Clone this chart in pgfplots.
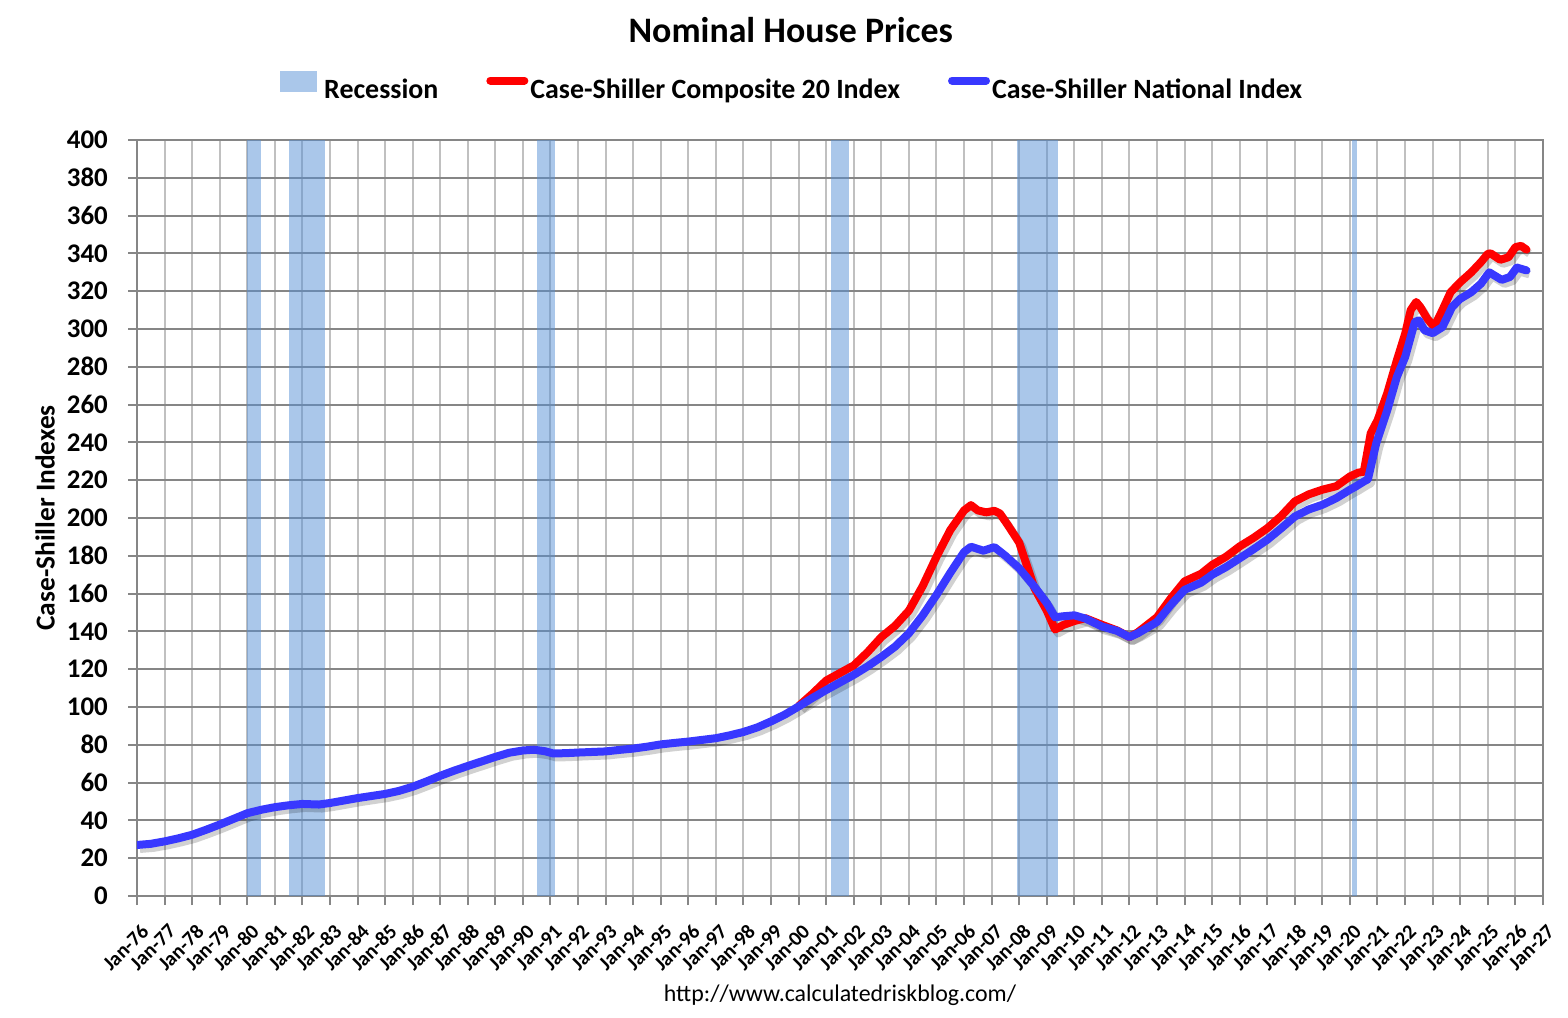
\documentclass[border=0pt]{standalone}
\usepackage{pgfplots}
\pgfplotsset{compat=1.18}
\usepackage{pgfplotstable}
\usepackage{fontspec}
\setmainfont{Carlito}

\definecolor{recblue}{RGB}{85,143,213}
\definecolor{linered}{RGB}{255,0,0}
\definecolor{lineblue}{RGB}{56,56,255}
\definecolor{gridmaj}{RGB}{134,134,134}
\definecolor{gridmin}{RGB}{192,192,192}

\pgfplotstableread{
x y
1976.0 27.0
1976.5 27.6
1977.0 28.9
1977.5 30.5
1978.0 32.4
1978.5 35.0
1979.0 37.8
1979.5 40.8
1980.0 43.8
1980.5 45.6
1981.0 47.0
1981.5 48.0
1982.0 48.7
1982.6 48.4
1983.0 49.2
1983.5 50.5
1984.0 51.8
1984.5 52.9
1985.0 54.0
1985.5 55.6
1986.0 57.8
1986.5 60.6
1987.0 63.6
1987.5 66.3
1988.0 68.8
1988.5 71.2
1989.0 73.6
1989.5 75.8
1990.0 77.0
1990.4 77.4
1990.8 76.6
1991.1 75.4
1991.6 75.6
1992.0 75.9
1992.5 76.2
1993.0 76.5
1993.5 77.3
1994.0 78.0
1994.5 79.0
1995.0 80.2
1995.5 81.0
1996.0 81.7
1996.5 82.6
1997.0 83.5
1997.5 85.0
1998.0 86.8
1998.5 89.2
1999.0 92.4
1999.5 96.0
2000.0 100.3
2000.5 104.8
2001.0 109.0
2001.5 113.0
2002.0 117.0
2002.5 121.5
2003.0 126.5
2003.5 132.0
2004.0 139.0
2004.5 148.5
2005.0 159.3
2005.5 171.0
2006.0 182.0
2006.25 184.8
2006.7 182.7
2007.1 184.6
2007.5 180.0
2008.0 173.4
2008.55 163.7
2009.0 155.0
2009.3 147.5
2009.6 148.0
2010.0 148.5
2010.4 146.8
2011.0 142.6
2011.55 140.3
2012.0 137.0
2012.3 139.0
2013.0 145.0
2013.5 154.0
2014.0 162.0
2014.6 165.8
2015.0 170.0
2015.5 174.0
2016.0 178.7
2016.5 183.5
2017.0 188.5
2017.5 194.5
2018.0 200.8
2018.5 204.5
2019.0 207.0
2019.5 210.5
2020.0 215.0
2020.2 216.6
2020.5 219.3
2020.65 220.5
2020.95 239.5
2021.35 257.0
2021.7 274.7
2022.0 285.2
2022.35 303.7
2022.5 304.6
2022.7 299.3
2023.0 297.8
2023.35 301.0
2023.7 311.6
2024.0 316.0
2024.4 319.5
2024.75 324.0
2025.05 330.0
2025.5 326.0
2025.8 327.5
2026.05 332.5
2026.4 331.0
}\national

\pgfplotstableread{
x y
2000.0 100.5
2000.5 107.0
2001.0 114.0
2001.5 118.0
2002.0 122.0
2002.5 129.0
2003.0 137.0
2003.5 143.0
2004.0 151.0
2004.5 164.0
2005.0 179.5
2005.5 193.6
2006.0 204.0
2006.25 206.8
2006.5 204.0
2006.8 203.0
2007.1 203.8
2007.3 202.4
2007.6 196.0
2008.0 187.0
2008.55 163.0
2009.0 151.0
2009.3 141.0
2009.6 143.4
2010.0 145.5
2010.4 147.0
2011.0 143.5
2011.55 140.5
2012.0 137.0
2012.3 139.5
2013.0 147.5
2013.5 157.5
2014.0 166.5
2014.6 170.5
2015.0 175.2
2015.5 179.5
2016.0 185.0
2016.5 189.5
2017.0 194.6
2017.5 201.0
2018.0 208.8
2018.5 212.5
2019.0 215.0
2019.5 216.8
2020.0 222.0
2020.3 224.0
2020.5 224.5
2020.75 244.8
2021.0 251.8
2021.35 266.0
2021.7 283.5
2022.0 297.5
2022.2 310.0
2022.4 314.3
2022.55 311.6
2022.8 305.5
2023.0 302.0
2023.1 302.5
2023.35 310.0
2023.65 319.5
2024.0 324.8
2024.4 330.0
2024.75 335.4
2025.0 339.8
2025.1 340.0
2025.45 336.6
2025.75 338.0
2026.0 343.3
2026.2 344.0
2026.4 342.0
}\composite

\begin{document}
\begin{tikzpicture}
\path[use as bounding box] (-137bp,-122bp) rectangle (1431bp,896bp);
\begin{axis}[
  at={(0bp,0bp)}, anchor=south west,
  scale only axis, width=1406bp, height=756bp,
  xmin=1976, xmax=2027, ymin=0, ymax=400,
  xtick={1976,1977,...,2027},
  xticklabels={Jan-76,Jan-77,Jan-78,Jan-79,Jan-80,Jan-81,Jan-82,Jan-83,Jan-84,Jan-85,Jan-86,Jan-87,Jan-88,Jan-89,Jan-90,Jan-91,Jan-92,Jan-93,Jan-94,Jan-95,Jan-96,Jan-97,Jan-98,Jan-99,Jan-00,Jan-01,Jan-02,Jan-03,Jan-04,Jan-05,Jan-06,Jan-07,Jan-08,Jan-09,Jan-10,Jan-11,Jan-12,Jan-13,Jan-14,Jan-15,Jan-16,Jan-17,Jan-18,Jan-19,Jan-20,Jan-21,Jan-22,Jan-23,Jan-24,Jan-25,Jan-26,Jan-27},
  ytick={0,20,...,400},
  /pgf/number format/assume math mode=true,
  grid=major,
  major x grid style={gridmin, line width=2bp},
  major y grid style={gridmaj, line width=2bp},
  axis line style={gridmaj, line width=2bp},
  tick pos=left, tick align=outside,
  major tick length=9bp,
  tick style={gridmaj, line width=2bp},
  xticklabel style={font=\fontsize{20.5}{25}\selectfont\bfseries, xshift=3bp, yshift=-18bp, rotate=45, anchor=north east, inner sep=0pt},
  yticklabel style={font=\fontsize{27}{32}\selectfont\bfseries, anchor=east, inner sep=0pt, xshift=-20bp},
  title={Nominal House Prices},
  title style={at={(axis description cs:0.465,1.138)}, anchor=center, font=\fontsize{36}{42}\selectfont\bfseries},
  ylabel={Case-Shiller Indexes},
  ylabel style={at={(axis description cs:-0.0654,0.5)}, anchor=center, font=\fontsize{27.5}{32}\selectfont\bfseries},
  xlabel={http://www.calculatedriskblog.com/},
  xlabel style={at={(axis description cs:0.5,-0.131)}, anchor=center, font=\fontsize{24}{28}\selectfont},
  legend columns=3,
  legend style={at={(axis description cs:0.466,1.071)}, anchor=center, draw=none, fill=none,
    font=\fontsize{28}{32}\selectfont\bfseries, inner sep=0pt,
    /tikz/every even column/.append style={column sep=46bp},
    nodes={inner sep=2bp}},
]
\addplot[fill=recblue, fill opacity=0.5, draw=none,
  legend image code/.code={\fill[recblue, fill opacity=0.5] (0bp,-2bp) rectangle (37bp,19bp); \path (42bp,0bp);}]
  coordinates {(1980.0,0) (1980.0,400) (1980.5,400) (1980.5,0)};
\addlegendentry{Recession}
\addplot[forget plot, fill=recblue, fill opacity=0.5, draw=none] coordinates {(1981.5,0) (1981.5,400) (1982.83,400) (1982.83,0)};
\addplot[forget plot, fill=recblue, fill opacity=0.5, draw=none] coordinates {(1990.5,0) (1990.5,400) (1991.17,400) (1991.17,0)};
\addplot[forget plot, fill=recblue, fill opacity=0.5, draw=none] coordinates {(2001.17,0) (2001.17,400) (2001.83,400) (2001.83,0)};
\addplot[forget plot, fill=recblue, fill opacity=0.5, draw=none] coordinates {(2007.92,0) (2007.92,400) (2009.42,400) (2009.42,0)};
\addplot[forget plot, fill=recblue, fill opacity=0.5, draw=none] coordinates {(2020.08,0) (2020.08,400) (2020.25,400) (2020.25,0)};

\addplot[forget plot, draw=black, opacity=0.18, line width=8bp, line join=round, xshift=3bp, yshift=-4bp] table[x=x,y=y] {\composite};
\addplot[forget plot, draw=black, opacity=0.18, line width=8bp, line join=round, xshift=3bp, yshift=-4bp] table[x=x,y=y] {\national};

\addplot[draw=linered, line width=8bp, line join=round, line cap=round,
  legend image code/.code={\draw[linered, line width=8bp, line cap=round] (4bp,9bp) -- (38bp,9bp);}]
  table[x=x,y=y] {\composite};
\addlegendentry{Case-Shiller Composite 20 Index}
\addplot[draw=lineblue, line width=8bp, line join=round, line cap=round,
  legend image code/.code={\draw[lineblue, line width=8bp, line cap=round] (4bp,9bp) -- (38bp,9bp);}]
  table[x=x,y=y] {\national};
\addlegendentry{Case-Shiller National Index}
\end{axis}
\end{tikzpicture}
\end{document}
